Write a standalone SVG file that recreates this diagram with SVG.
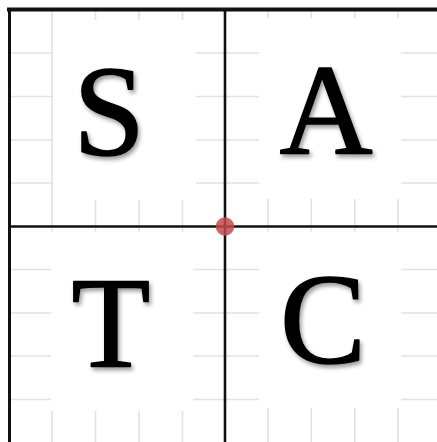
<svg xmlns="http://www.w3.org/2000/svg" width="437" height="442" viewBox="0 0 437 442">
<defs>
<style>
.grid line{stroke:#e2e2e2;stroke-width:1.6}
.box{fill:#ffffff}
.axis{stroke:#111;fill:none}
.lbl{font-family:"Liberation Serif","Times New Roman",serif;font-size:129px;fill:#000;stroke:#000;stroke-width:1.5;stroke-linejoin:round;text-anchor:middle;filter:url(#sh)}
</style>
<filter id="sh" x="-20%" y="-20%" width="150%" height="150%">
<feDropShadow dx="2" dy="3" stdDeviation="2" flood-color="#000" flood-opacity="0.4"/>
</filter>
</defs>
<rect width="437" height="442" fill="#fff"/>
<g class="grid">
<line x1="52" y1="9" x2="52" y2="442"/><line x1="95.5" y1="9" x2="95.5" y2="442"/><line x1="139" y1="9" x2="139" y2="442"/><line x1="182.5" y1="9" x2="182.5" y2="442"/>
<line x1="268" y1="9" x2="268" y2="442"/><line x1="311.3" y1="9" x2="311.3" y2="442"/><line x1="354.7" y1="9" x2="354.7" y2="442"/><line x1="398" y1="9" x2="398" y2="442"/>
<line x1="9" y1="53" x2="437" y2="53"/><line x1="9" y1="96.5" x2="437" y2="96.5"/><line x1="9" y1="140" x2="437" y2="140"/><line x1="9" y1="183" x2="437" y2="183"/>
<line x1="9" y1="269.5" x2="437" y2="269.5"/><line x1="9" y1="313" x2="437" y2="313"/><line x1="9" y1="356" x2="437" y2="356"/><line x1="9" y1="399.5" x2="437" y2="399.5"/>
</g>
<g id="node-S"><rect class="box" x="53" y="20" width="143" height="180"/><text class="lbl" x="109" y="155">S</text></g>
<g id="node-A"><rect class="box" x="259" y="18" width="142" height="181"/><text class="lbl" x="326" y="154">A</text></g>
<g id="node-T"><rect class="box" x="51" y="232" width="142" height="179"/><text class="lbl" x="111" y="366">T</text></g>
<g id="node-C"><rect class="box" x="259" y="232" width="142" height="176"/><text class="lbl" x="323" y="363">C</text></g>
<g id="connectors">
<line class="axis" x1="7" y1="9.5" x2="437" y2="9.5" stroke-width="4"/>
<line class="axis" x1="9.5" y1="8" x2="9.5" y2="442" stroke-width="3"/>
<line class="axis" x1="225" y1="9" x2="225" y2="442" stroke-width="2.6"/>
<line class="axis" x1="9" y1="226.5" x2="437" y2="226.5" stroke-width="2.6"/>
</g>
<circle id="origin" cx="225" cy="226.5" r="9.3" fill="#c44a4a" fill-opacity="0.85"/>
</svg>
